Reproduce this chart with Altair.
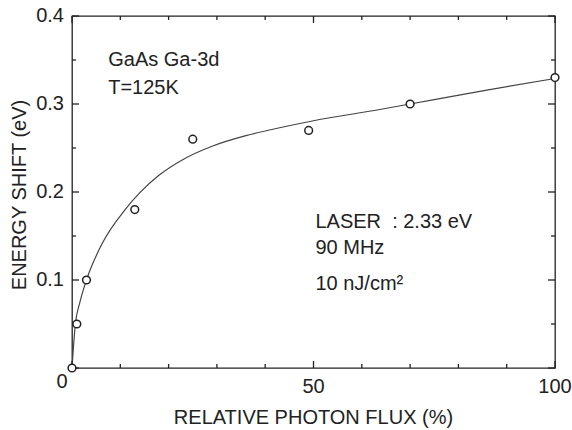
import altair as alt
import pandas as pd

# measured points
flux = [0, 1, 3, 13, 25, 49, 70, 100]
shift = [0.0, 0.05, 0.10, 0.18, 0.26, 0.27, 0.30, 0.33]

# fitted curve
fit_flux = [0, 0.7, 1.6, 3, 6.3, 11, 14, 18, 23, 29, 36, 43, 50, 64, 70, 85, 100]
fit_shift = [0.0, 0.05, 0.074, 0.10, 0.142, 0.180, 0.199, 0.219, 0.237, 0.252,
             0.264, 0.273, 0.281, 0.294, 0.300, 0.315, 0.329]

# annotations
note_text = ["GaAs Ga-3d", "T=125K", "LASER\u00a0\u00a0: 2.33 eV", "90 MHz", "10 nJ/cm\u00b2"]
note_x = [7.5, 7.5, 50.4, 50.4, 50.4]
note_y = [0.343, 0.311, 0.1595, 0.129, 0.089]

# axes
x_minor = [10, 20, 30, 40, 60, 70, 80, 90]
x_major = [0, 50, 100]
y_minor = [0.05, 0.15, 0.25, 0.35]
y_major = [0, 0.1, 0.2, 0.3, 0.4]
x_label_vals = [50, 100]
x_label_text = ["50", "100"]
origin_label = ["0"]
y_label_vals = [0.1, 0.2, 0.3, 0.4]
y_label_text = ["0.1", "0.2", "0.3", "0.4"]
x_title = "RELATIVE PHOTON FLUX (%)"
y_title = "ENERGY SHIFT (eV)"

W, H = 483, 352
FONT = "Liberation Sans"
INK = "#222222"
MINOR, MAJOR = 4, 7
FS = 20

xs = alt.Scale(domain=[0, 100], nice=False, zero=False)
ys = alt.Scale(domain=[0, 0.4], nice=False, zero=False)


def X(field):
    return alt.X(field, scale=xs, axis=None)


def Y(field):
    return alt.Y(field, scale=ys, axis=None)


pts_df = pd.DataFrame({"v": flux, "w": shift})
fit_df = pd.DataFrame({"v": fit_flux, "w": fit_shift})
note_df = pd.DataFrame({"v": note_x, "w": note_y, "t": note_text})

line = alt.Chart(fit_df).mark_line(
    interpolate="monotone", color="#444444", strokeWidth=1.2
).encode(x=X("v:Q"), y=Y("w:Q"))

txt = alt.Chart(note_df).mark_text(
    align="left", baseline="alphabetic", font=FONT, fontSize=FS, color=INK
).encode(x=X("v:Q"), y=Y("w:Q"), text="t:N")

pts = alt.Chart(pts_df).mark_point(
    shape="circle", filled=False, fill="white", fillOpacity=1,
    stroke=INK, strokeWidth=1.5, size=60, opacity=1
).encode(x=X("v:Q"), y=Y("w:Q"))

# inward ticks on all four sides (tick marks, half-offset so they sit inside)
tick_layers = []
for vals, size in ((x_minor, MINOR), (x_major, MAJOR)):
    tdf = pd.DataFrame({"v": vals})
    for ypos, off in ((H, -size / 2), (0, size / 2)):
        tick_layers.append(
            alt.Chart(tdf).mark_tick(
                orient="vertical", size=size, thickness=1.3, color=INK,
                opacity=1, yOffset=off,
            ).encode(x=X("v:Q"), y=alt.value(ypos))
        )
for vals, size in ((y_minor, MINOR), (y_major, MAJOR)):
    tdf = pd.DataFrame({"w": vals})
    for xpos, off in ((0, size / 2), (W, -size / 2)):
        tick_layers.append(
            alt.Chart(tdf).mark_tick(
                orient="horizontal", size=size, thickness=1.3, color=INK,
                opacity=1, xOffset=off,
            ).encode(y=Y("w:Q"), x=alt.value(xpos))
        )

# tick labels
xlab = alt.Chart(pd.DataFrame({"v": x_label_vals, "t": x_label_text})).mark_text(
    align="center", baseline="alphabetic", font=FONT, fontSize=FS, color=INK
).encode(x=X("v:Q"), y=alt.value(H + 25), text="t:N")

olab = alt.Chart(pd.DataFrame({"v": [0], "t": origin_label})).mark_text(
    align="center", baseline="alphabetic", font=FONT, fontSize=FS, color=INK, dx=-10
).encode(x=X("v:Q"), y=alt.value(H + 20), text="t:N")

ylab = alt.Chart(pd.DataFrame({"w": y_label_vals, "t": y_label_text})).mark_text(
    align="right", baseline="middle", font=FONT, fontSize=FS, color=INK
).encode(y=Y("w:Q"), x=alt.value(-8), text="t:N")

# axis titles
xtit = alt.Chart(pd.DataFrame({"t": [x_title]})).mark_text(
    align="center", baseline="alphabetic", font=FONT, fontSize=FS, color=INK
).encode(x=alt.value(W / 2), y=alt.value(H + 56), text="t:N")

ytit = alt.Chart(pd.DataFrame({"t": [y_title]})).mark_text(
    align="center", baseline="alphabetic", font=FONT, fontSize=FS, color=INK, angle=270
).encode(x=alt.value(-46), y=alt.value(H / 2 + 3), text="t:N")

chart = alt.layer(line, txt, *tick_layers, xlab, olab, ylab, xtit, ytit, pts).properties(
    width=W, height=H,
    autosize=alt.AutoSizeParams(type="none"),
    padding={"left": 72, "top": 16, "right": 17, "bottom": 62},
    background="white",
).configure_view(stroke=INK, strokeWidth=1.3)

chart.save("out.html", embed_options={"renderer": "svg", "actions": False})
